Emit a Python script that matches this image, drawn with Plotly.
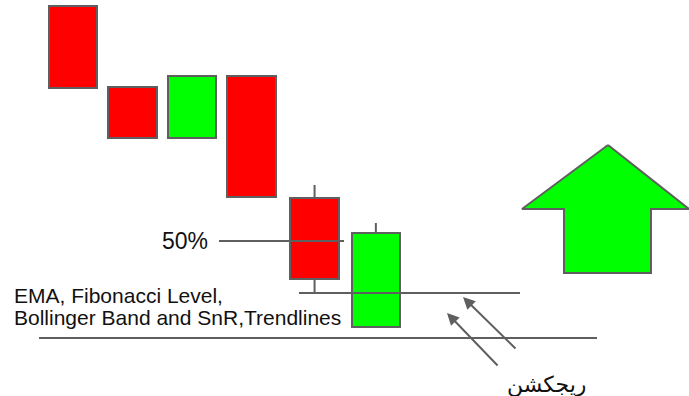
import plotly.graph_objects as go

# =============================
# Datos de las velas
# =============================
idx = [1, 2, 3, 4, 5.06, 6.09]
open_ = [390, 309, 258, 320, 198, 69]
close = [308, 258, 320, 199, 117, 163]
high = [390, 309, 320, 320, 211, 173]
low = [308, 258, 258, 199, 102, 69]

# niveles
nivel_50 = 155
nivel_ema = 103
nivel_soporte = 58
tramo_50 = [3.454, 5.555]
tramo_ema = [4.798, 8.513]
tramo_soporte = [0.429, 9.807]

# flechas de rechazo (cola -> punta)
flechas = [((8.462, 46), (7.555, 99)), ((8.160, 29), (7.286, 83))]

# flecha grande hacia arriba
flecha_x = [9.992, 11.353, 10.714, 10.714, 9.252, 9.252, 8.546, 9.992]
flecha_y = [251, 187, 187, 123, 123, 187, 187, 251]

# textos
texto_50 = "50%"
texto_niveles = ["EMA, Fibonacci Level,", "Bollinger Band and SnR,Trendlines"]
texto_rechazo = "ريجكشن"

ROJO = "#ff0000"
VERDE = "#00ff00"
GRIS = "#5f5f5f"

colores = [VERDE if c > o else ROJO for o, c in zip(open_, close)]
base = [min(o, c) for o, c in zip(open_, close)]
alto = [abs(c - o) for o, c in zip(open_, close)]

fig = go.Figure()

# cuerpos
fig.add_trace(go.Bar(x=idx, y=alto, base=base, width=0.81,
                     marker=dict(color=colores, line=dict(color=GRIS, width=2))))

# mechas
wx, wy = [], []
for x, o, c, h, l in zip(idx, open_, close, high, low):
    if h > max(o, c):
        wx += [x, x, None]
        wy += [max(o, c), h, None]
    if l < min(o, c):
        wx += [x, x, None]
        wy += [min(o, c), l, None]
fig.add_trace(go.Scatter(x=wx, y=wy, mode="lines", line=dict(color=GRIS, width=2)))

# lineas de nivel
for tramo, nivel in [(tramo_50, nivel_50), (tramo_ema, nivel_ema), (tramo_soporte, nivel_soporte)]:
    fig.add_trace(go.Scatter(x=tramo, y=[nivel, nivel], mode="lines",
                             line=dict(color=GRIS, width=2)))

# flecha grande
fig.add_trace(go.Scatter(x=flecha_x, y=flecha_y, mode="lines", fill="toself",
                         fillcolor=VERDE, line=dict(color=GRIS, width=2)))

for (tx, ty), (hx, hy) in flechas:
    fig.add_annotation(x=hx, y=hy, ax=tx, ay=ty, xref="x", yref="y", axref="x", ayref="y",
                       text="", showarrow=True, arrowhead=2, arrowsize=1.2,
                       arrowwidth=2, arrowcolor=GRIS)

fig.add_annotation(x=3.30, y=nivel_50, text=texto_50, showarrow=False, xanchor="right",
                   yanchor="middle",
                   font=dict(family="Liberation Sans, Arial", size=23, color="#111111"))
for i, linea in enumerate(texto_niveles):
    fig.add_annotation(x=-0.03, y=101 - 22 * i, text=linea, showarrow=False,
                       xanchor="left", yanchor="middle",
                       font=dict(family="Liberation Sans, Arial", size=21, color="#111111"))
fig.add_annotation(x=8.966, y=12, text=texto_rechazo, showarrow=False, xanchor="center",
                   yanchor="middle",
                   font=dict(family="DejaVu Sans", size=22, color="#111111"))

fig.update_layout(
    width=689, height=396, margin=dict(l=0, r=0, t=0, b=0),
    plot_bgcolor="white", paper_bgcolor="white", showlegend=False, bargap=0,
    xaxis=dict(range=[-0.227, 11.353], visible=False),
    yaxis=dict(range=[0, 396], visible=False),
)

fig.write_html("out.html", config={"displayModeBar": False},
               post_script="document.body.style.margin='0';")
